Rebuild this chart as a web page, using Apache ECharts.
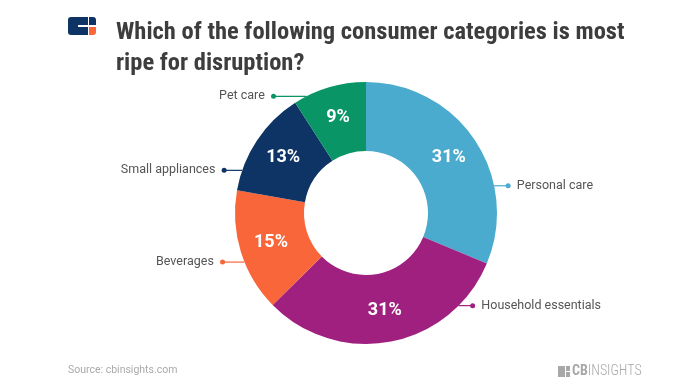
<!DOCTYPE html>
<html><head><meta charset="utf-8">
<script src="https://cdn.jsdelivr.net/npm/echarts@6/dist/echarts.min.js"></script>
<style>html,body{margin:0;padding:0;background:#fff}#c{width:687px;height:387px}</style>
</head><body><div id="c"></div>
<script>
const categories = ['Personal care','Household essentials','Beverages','Small appliances','Pet care'];
const values = [31, 31, 15, 13, 9];
const colors = ['#4aabcf','#a0207f','#f9663a','#0e3465','#0a9567'];
const titleLines = ['Which of the following consumer categories is most','ripe for disruption?'];
const sourceText = 'Source: cbinsights.com';

// label anchor styling (degrees clockwise from top, line lengths in px)
const labelAngles = [78, 135, 248, 289, 333];
const lineLens = [14, 14, 22, 18, 33];

const chart = echarts.init(document.getElementById('c'));
const data = categories.map((n,i)=>({name:n,value:values[i],itemStyle:{color:colors[i]}}));
const cx = 366, cy = 213, R = 131;
const center = [cx, cy];
const radius = [62, R];
chart.setOption({
  animation:false,
  title:{text:titleLines.join('\n'),left:111,top:12,textStyle:{fontFamily:'"Roboto Condensed","Liberation Sans Narrow",Roboto,sans-serif',fontWeight:'bold',fontSize:24.5,lineHeight:31,color:'#3d3d3d'}},
  graphic:[
    {type:'rect',shape:{x:68,y:17,width:20,height:18,r:[3,0,0,3]},style:{fill:'#0e3465'}},
    {type:'rect',shape:{x:78,y:25,width:11,height:2},style:{fill:'#ffffff'}},
    {type:'rect',shape:{x:89,y:17,width:7,height:8,r:[0,3,0,0]},style:{fill:'#0e3465'}},
    {type:'rect',shape:{x:89,y:27,width:7,height:8,r:[0,0,3,0]},style:{fill:'#f9663a'}},
    {type:'text',left:68,top:365,style:{text:sourceText,font:'10.5px Roboto, sans-serif',fill:'#aaaaaa'}},
    {type:'rect',shape:{x:558,y:366,width:7,height:11},style:{fill:'#a8a8a8'}},
    {type:'rect',shape:{x:566,y:366,width:4,height:5},style:{fill:'#a8a8a8'}},
    {type:'rect',shape:{x:566,y:372,width:4,height:5},style:{fill:'#a8a8a8'}},
    {type:'text',left:572,top:364,style:{text:'{b|CB}{l|INSIGHTS}',rich:{b:{font:'bold 14px "Roboto Condensed", Roboto, sans-serif',fill:'#a8a8a8'},l:{font:'300 14px "Roboto Condensed", Roboto, sans-serif',fill:'#a8a8a8'}}}}
  ],
  series:[
    {type:'pie',center:center,radius:radius,startAngle:90,clockwise:true,silent:true,
     data:data,
     label:{position:'inside',formatter:'{c}%',color:'#fff',fontFamily:'Roboto, sans-serif',fontWeight:'bold',fontSize:18},
     labelLine:{show:false}},
    {type:'pie',center:center,radius:radius,startAngle:90,clockwise:true,silent:true,
     data:data.map(d=>({name:d.name,value:d.value,itemStyle:{color:'rgba(0,0,0,0)'},labelLine:{lineStyle:{color:d.itemStyle.color}},
       label:{rich:{d:{backgroundColor:d.itemStyle.color,width:5,height:5,borderRadius:2.5}}}})),
     label:{position:'outside',color:'#555555',fontFamily:'Roboto, sans-serif',fontSize:12.5,
       rich:{t:{color:'#555555',fontFamily:'Roboto, sans-serif',fontSize:12.5}},
       formatter:function(p){
         const ang = labelAngles[p.dataIndex]*Math.PI/180;
         return Math.sin(ang)>0 ? '{d|}{t|  '+p.name+'}' : '{t|'+p.name+'  }{d|}';
       }},
     labelLine:{show:true,length:6,length2:8,lineStyle:{width:1.2}},
     labelLayout:function(params){
       const i = params.dataIndex;
       const ang = labelAngles[i]*Math.PI/180;
       const px = cx + R*Math.sin(ang), py = cy - R*Math.cos(ang);
       const right = Math.sin(ang) > 0;
       const ex = px + (right?1:-1)*lineLens[i];
       return {x: ex + (right?-2.5:2.5), y: py, align: right?'left':'right', verticalAlign:'middle',
               labelLinePoints:[[px,py],[ex,py],[ex,py]]};
     }}
  ]
});
</script></body></html>
